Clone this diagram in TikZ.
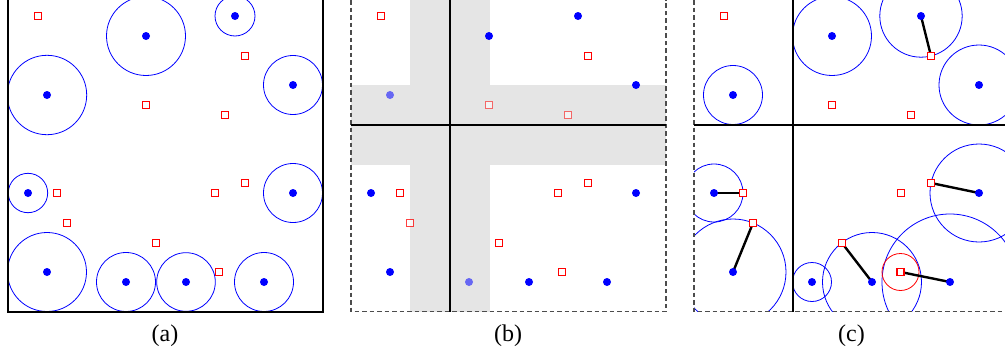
\documentclass[tikz,border=0pt]{standalone}
\usepackage{fontspec}
\setmainfont{Liberation Serif}
\begin{document}
\begin{tikzpicture}[x=1pt,y=-1pt,
  bdot/.style={circle,fill=blue,inner sep=0pt,minimum size=8pt},
  rsq/.style={draw=red,fill=white,line width=1.3pt,inner sep=0pt,minimum size=6.8pt},
  ncirc/.style={draw=blue,line width=0.8pt},
  rcirc/.style={draw=red,line width=0.8pt},
  link/.style={line width=2.4pt,black},
  frame/.style={line width=2pt,black},
  dframe/.style={dash pattern=on 4.5pt off 3pt,line width=1.1pt,black!70},
  divline/.style={line width=2pt,black},
  band/.style={fill=black!10},
  faded/.style={opacity=0.55},
  lbl/.style={font=\fontsize{24}{28}\selectfont,anchor=base}
]
\useasboundingbox (0,0) rectangle (1005,356);

% ---------------- panel (a) ----------------
\begin{scope}
\clip (8,-10) rectangle (323,311.5);
\foreach \x/\y/\r in {146/36/39.5,235/16/20,47/95/39.7,293/85/29.5,28/193/19.7,293/193/29.5,47/272/39.5,126/282/29.5,186/282/29.3,264/282/29.5}
  \draw[ncirc] (\x,\y) circle[radius=\r];
\end{scope}
\draw[frame] (8,0) -- (8,311.5) -- (323,311.5) -- (323,0);
\foreach \x/\y [count=\i] in {146/36,235/16,47/95,293/85,28/193,293/193,47/272,126/282,186/282,264/282}
  \node[bdot] (ab\i) at (\x,\y) {};
\foreach \x/\y [count=\i] in {38/16,245/56,146/105,225/115,57/193,67/223,215/193,245/183,156/243,219/272}
  \node[rsq] (ar\i) at (\x,\y) {};
\node[lbl] (la) at (165,341.5) {(a)};

% ---------------- panel (b) ----------------
\begin{scope}[xshift=343pt]
\fill[band] (8,85) rectangle (323,165);
\fill[band] (67,0) rectangle (146.5,311.5);
\draw[dframe] (8,0) -- (8,311.5) -- (323,311.5) -- (323,0);
\draw[divline] (8,125) -- (323,125);
\draw[divline] (106.7,0) -- (106.7,311.5);
\foreach \x/\y [count=\i] in {146/36,235/16,293/85,28/193,293/193,47/272,186/282,264/282}
  \node[bdot] (bb\i) at (\x,\y) {};
\node[bdot,faded] (bb9) at (47,95) {};
\node[bdot,faded] (bb10) at (126,282) {};
\foreach \x/\y [count=\i] in {38/16,245/56,57/193,215/193,245/183,156/243,219/272}
  \node[rsq] (br\i) at (\x,\y) {};
\node[rsq,faded] (br8) at (146,105) {};
\node[rsq,faded] (br9) at (225,115) {};
\node[rsq,opacity=0.75] (br10) at (67,223) {};
\end{scope}
\node[lbl] (lb) at (508,341.5) {(b)};

% ---------------- panel (c) ----------------
\begin{scope}[xshift=686pt]
\begin{scope}
\clip (8,-10) rectangle (330,311.5);
\foreach \x/\y/\r in {146/36/39.5,235/16/41.2,293/85/40,47/95/29.5,28/193/29,47/272/53,126/282/19.5,186/282/49.5,264/282/68,293/193/49}
  \draw[ncirc] (\x,\y) circle[radius=\r];
\draw[rcirc] (214.5,272) circle[radius=18.5];
\end{scope}
\draw[dframe] (8,0) -- (8,311.5) -- (330,311.5);
\draw[divline] (8,125) -- (330,125);
\draw[divline] (106.5,0) -- (106.5,311.5);
\foreach \x/\y [count=\i] in {146/36,235/16,293/85,47/95,28/193,47/272,126/282,186/282,264/282,293/193}
  \coordinate (cb\i) at (\x,\y);
\foreach \x/\y [count=\i] in {38/16,245/56,146/105,225/115,57/193,67/223,215/193,245/183,156/243,214.5/272}
  \coordinate (cr\i) at (\x,\y);
\draw[link] (cb2) -- (cr2);
\draw[link] (cb5) -- (cr5);
\draw[link] (cb6) -- (cr6);
\draw[link] (cb8) -- (cr9);
\draw[link] (cb9) -- (cr10);
\draw[link] (cb10) -- (cr8);
\foreach \i in {1,...,10} \node[bdot] (cbn\i) at (cb\i) {};
\foreach \i in {1,...,10} \node[rsq] (crn\i) at (cr\i) {};
\end{scope}
\node[lbl] (lc) at (851.5,341.5) {(c)};
\end{tikzpicture}
\end{document}
